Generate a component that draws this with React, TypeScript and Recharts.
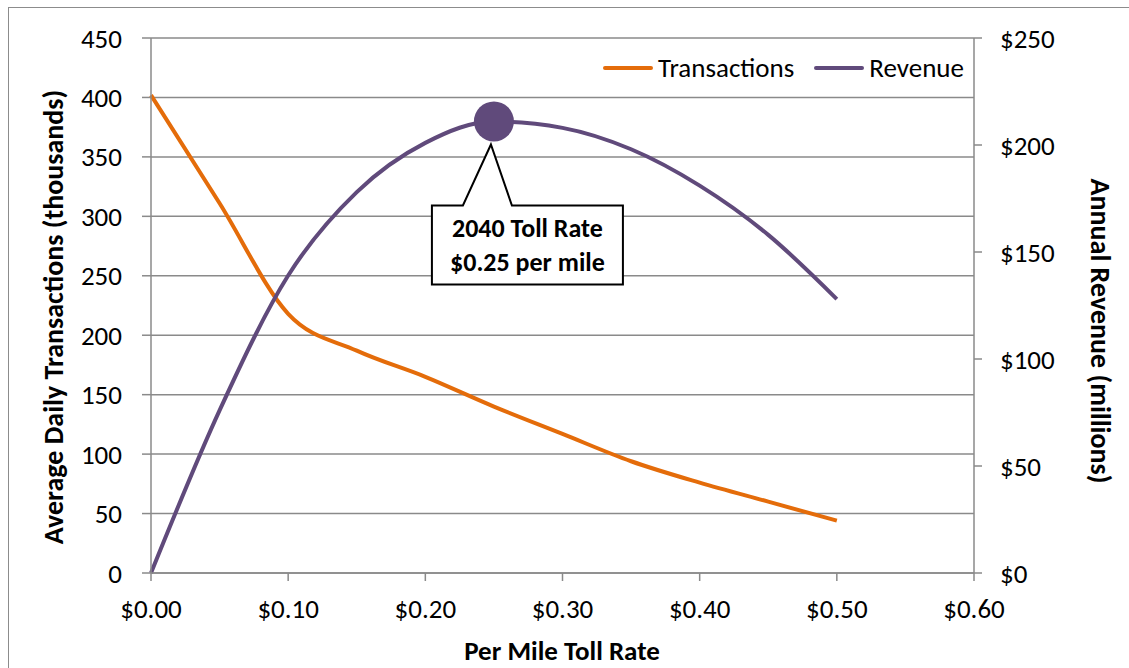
import React from "react";
import {
  ComposedChart,
  Line,
  XAxis,
  YAxis,
  CartesianGrid,
  ReferenceDot,
  Label,
} from "recharts";

// per mile toll rate ($)
const tollRates = [0, 0.05, 0.1, 0.15, 0.2, 0.25, 0.3, 0.35, 0.4, 0.45, 0.5];
// average daily transactions (thousands)
const transactions = [402, 311, 218, 187, 165, 140, 117, 94, 76, 60, 44];
// annual revenue (millions $)
const revenue = [0, 76, 139, 178, 201, 211, 208, 198, 181, 158, 128];

const xTicks = [0, 0.1, 0.2, 0.3, 0.4, 0.5, 0.6];
const leftTicks = [0, 50, 100, 150, 200, 250, 300, 350, 400, 450];
const rightTicks = [0, 50, 100, 150, 200, 250];

const highlightRate = 0.25;
const highlightRevenue = 211;
const calloutLines = ["2040 Toll Rate", "$0.25 per mile"];

const ORANGE = "#E46C0A";
const PURPLE = "#604A7B";
const GRID = "#8a8a8a";
const FONT = "Carlito, Calibri, Lato, sans-serif";

const data = tollRates.map((rate, i) => ({
  rate,
  transactions: transactions[i],
  revenue: revenue[i],
}));

const tickStyle = { fontSize: 27, fill: "#000", fontFamily: FONT };

function Callout(props: any) {
  const { cx, cy } = props;
  if (cx == null || cy == null) return null;
  const left = cx - 62;
  const right = cx + 129;
  const top = cy + 84;
  const bottom = cy + 163;
  const path = [
    `M ${left} ${top}`,
    `L ${cx - 31} ${top}`,
    `L ${cx - 3} ${cy + 23}`,
    `L ${cx + 18} ${top}`,
    `L ${right} ${top}`,
    `L ${right} ${bottom}`,
    `L ${left} ${bottom}`,
    "Z",
  ].join(" ");
  const mid = (left + right) / 2;
  return (
    <g>
      <path d={path} fill="#fff" stroke="#000" strokeWidth={2} />
      <circle cx={cx} cy={cy} r={20} fill={PURPLE} />
      {calloutLines.map((t, i) => (
        <text
          key={t}
          x={mid}
          y={top + 32 + i * 34}
          textAnchor="middle"
          fontFamily={FONT}
          fontWeight={700}
          fontSize={26}
          fill="#000"
        >
          {t}
        </text>
      ))}
    </g>
  );
}

function LegendBox() {
  const item = (color: string, label: string, gap: number) => (
    <div style={{ display: "flex", alignItems: "center", marginLeft: gap }}>
      <div style={{ width: 50, height: 4, background: color, borderRadius: 2, marginRight: 5 }} />
      <span style={{ fontFamily: FONT, fontSize: 27, color: "#000", lineHeight: "32px" }}>{label}</span>
    </div>
  );
  return (
    <div
      style={{
        position: "absolute",
        right: 1129 - 964,
        top: 52,
        height: 32,
        display: "flex",
        alignItems: "center",
      }}
    >
      {item(ORANGE, "Transactions", 0)}
      {item(PURPLE, "Revenue", 20)}
    </div>
  );
}

export default function App() {
  return (
    <div style={{ position: "absolute", left: 0, top: 0, width: 1129, height: 668, background: "#fff", overflow: "hidden" }}>
      <div
        style={{
          position: "absolute",
          left: 8,
          top: 7,
          width: 1130,
          height: 670,
          border: "1px solid #8c8c8c",
          boxSizing: "border-box",
        }}
      />
      <ComposedChart
        width={1129}
        height={668}
        data={data}
        margin={{ top: 38, right: 0, bottom: 0, left: 0 }}
        style={{ position: "absolute", left: 0, top: 0 }}
      >
        <CartesianGrid yAxisId="left" vertical={false} stroke={GRID} strokeWidth={1.5} />
        <XAxis
          dataKey="rate"
          type="number"
          domain={[0, 0.6]}
          ticks={xTicks}
          tickFormatter={(v: number) => `$${v.toFixed(2)}`}
          tick={tickStyle}
          axisLine={{ stroke: GRID, strokeWidth: 1.5 }}
          tickLine={{ stroke: GRID, strokeWidth: 1.5 }}
          tickSize={8}
          tickMargin={18}
          height={95}
          interval={0}
        >
          <Label
            content={() => (
              <text x={562} y={660} textAnchor="middle" fontFamily={FONT} fontWeight={700} fontSize={27} fill="#000">
                Per Mile Toll Rate
              </text>
            )}
          />
        </XAxis>
        <YAxis
          yAxisId="left"
          domain={[0, 450]}
          ticks={leftTicks}
          tick={tickStyle}
          width={151}
          axisLine={{ stroke: GRID, strokeWidth: 1.5 }}
          tickLine={{ stroke: GRID, strokeWidth: 1.5 }}
          tickSize={9}
          tickMargin={20}
          interval={0}
        >
          <Label
            content={() => (
              <text
                x={0}
                y={0}
                transform="translate(63 317) rotate(-90)"
                textAnchor="middle"
                fontFamily={FONT}
                fontWeight={700}
                fontSize={28}
                fill="#000"
              >
                Average Daily Transactions (thousands)
              </text>
            )}
          />
        </YAxis>
        <YAxis
          yAxisId="right"
          orientation="right"
          domain={[0, 250]}
          ticks={rightTicks}
          tickFormatter={(v: number) => `$${v}`}
          tick={tickStyle}
          width={155}
          axisLine={{ stroke: GRID, strokeWidth: 1.5 }}
          tickLine={{ stroke: GRID, strokeWidth: 1.5 }}
          tickSize={8}
          tickMargin={18}
          interval={0}
        >
          <Label
            content={() => (
              <text
                x={0}
                y={0}
                transform="translate(1091 331) rotate(90)"
                textAnchor="middle"
                fontFamily={FONT}
                fontWeight={700}
                fontSize={28}
                fill="#000"
              >
                Annual Revenue (millions)
              </text>
            )}
          />
        </YAxis>
        <Line
          yAxisId="left"
          type="monotone"
          dataKey="transactions"
          name="Transactions"
          stroke={ORANGE}
          strokeWidth={4}
          dot={false}
          isAnimationActive={false}
        />
        <Line
          yAxisId="right"
          type="monotone"
          dataKey="revenue"
          name="Revenue"
          stroke={PURPLE}
          strokeWidth={4}
          dot={false}
          isAnimationActive={false}
        />
        <ReferenceDot
          yAxisId="right"
          x={highlightRate}
          y={highlightRevenue}
          r={20}
          shape={Callout}
        />
      </ComposedChart>
      <LegendBox />
    </div>
  );
}
